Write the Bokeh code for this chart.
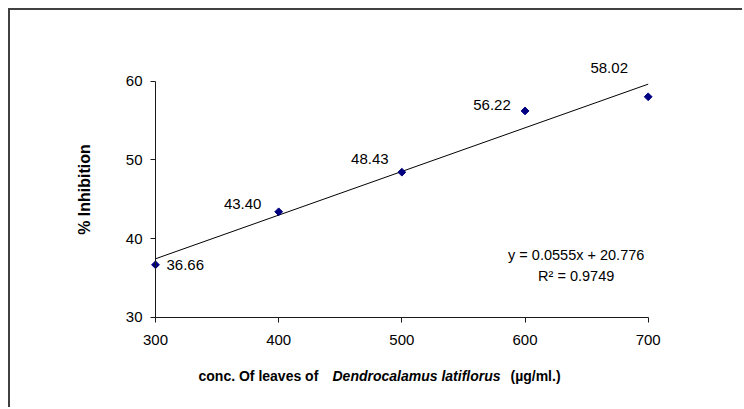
import numpy as np
from bokeh.plotting import figure
from bokeh.models import Range1d, Label, FixedTicker
from bokeh.embed import file_html
from bokeh.resources import INLINE

# ---- data ----
conc = [300, 400, 500, 600, 700]
inhibition = [36.66, 43.40, 48.43, 56.22, 58.02]
x_ticks = [300, 400, 500, 600, 700]
y_ticks = [30, 40, 50, 60]
slope = 0.0555
intercept = 20.776
r_squared = 0.9749

FONT = "Liberation Sans"

# canvas 734x399; the plotting frame covers the whole canvas and the axes
# are pinned at x=300 / y=30 so that labels outside the data area are not clipped
W, H = 734, 399
px_x = 1.23175   # pixels per x unit
px_y = 7.8667    # pixels per y unit
x_left_px, y_top_px = 145.0, 70.7   # canvas position of x=300 / y=60
xr = Range1d(x_ticks[0] - x_left_px / px_x, x_ticks[0] + (W - x_left_px) / px_x)
yr = Range1d(y_ticks[-1] - (H - y_top_px) / px_y, y_ticks[-1] + y_top_px / px_y)

p = figure(width=W, height=H, output_backend="svg", toolbar_location=None,
           x_range=xr, y_range=yr,
           min_border_left=0, min_border_right=0, min_border_top=0, min_border_bottom=0,
           styles={"margin-top": "8px", "margin-left": "8px",
                   "border-top": "2px solid #404040", "border-left": "2px solid #404040"})

p.grid.visible = False
p.outline_line_color = None
p.background_fill_color = "white"
p.border_fill_color = "white"

for ax in (p.xaxis[0], p.yaxis[0]):
    ax.axis_line_color = "#1a1a1a"
    ax.axis_line_width = 1
    ax.major_tick_line_color = "#1a1a1a"
    ax.major_tick_out = 5
    ax.major_tick_in = 0
    ax.minor_tick_line_color = None
    ax.major_label_text_font = FONT
    ax.major_label_text_font_size = "15px"
    ax.major_label_text_color = "black"

p.xaxis.ticker = FixedTicker(ticks=x_ticks)
p.yaxis.ticker = FixedTicker(ticks=y_ticks)
p.xaxis.bounds = (min(x_ticks), max(x_ticks))
p.yaxis.bounds = (min(y_ticks), max(y_ticks))
p.xaxis.fixed_location = min(y_ticks)
p.yaxis.fixed_location = min(x_ticks)
p.xaxis.major_label_standoff = 13
p.yaxis.major_label_standoff = 8

# trend line from the displayed regression equation
x0, x1 = min(conc), max(conc)
p.line([x0, x1], [slope * x0 + intercept, slope * x1 + intercept],
       line_color="black", line_width=1)

p.scatter(conc, inhibition, marker="square", size=5.5, angle=np.pi / 4,
          fill_color="#000080", line_color="#000080")

# data labels (offsets in px)
offsets = [(11, 0, "left"), (-36, 8, "center"), (-32, 13, "center"),
           (-33, 6, "center"), (-39, 29, "center")]
for xv, yv, (dx, dy, al) in zip(conc, inhibition, offsets):
    p.add_layout(Label(x=xv, y=yv, text=f"{yv:.2f}", x_offset=dx, y_offset=dy,
                       text_align=al, text_baseline="middle",
                       text_font=FONT, text_font_size="15px", text_color="black"))

# equation
p.add_layout(Label(x=565.7, y=154.7, x_units="screen", y_units="screen",
                   text=f"y = {slope}x + {intercept}", text_align="center",
                   text_baseline="middle", text_font=FONT, text_font_size="14.5px",
                   text_color="black"))
p.add_layout(Label(x=565.7, y=134, x_units="screen", y_units="screen",
                   text=f"R\u00b2 = {r_squared}", text_align="center",
                   text_baseline="middle", text_font=FONT, text_font_size="14.5px",
                   text_color="black"))

# axis titles
p.add_layout(Label(x=73.5, y=220, x_units="screen", y_units="screen",
                   text="% Inhibition", angle=np.pi / 2, text_align="center",
                   text_baseline="middle", text_font=FONT, text_font_size="16px",
                   text_font_style="bold", text_color="black"))

xt_parts = [("conc. Of  leaves of", 188, "bold"),
            ("Dendrocalamus  latiflorus", 322, "bold italic"),
            ("(\u00b5g/ml.)", 500, "bold")]
for txt, xs, st in xt_parts:
    p.add_layout(Label(x=xs, y=33.5, x_units="screen", y_units="screen",
                       text=txt, text_align="left", text_baseline="middle",
                       text_font=FONT, text_font_size="14px",
                       text_font_style=st, text_color="black"))

open("out.html", "w").write(file_html(p, INLINE))
